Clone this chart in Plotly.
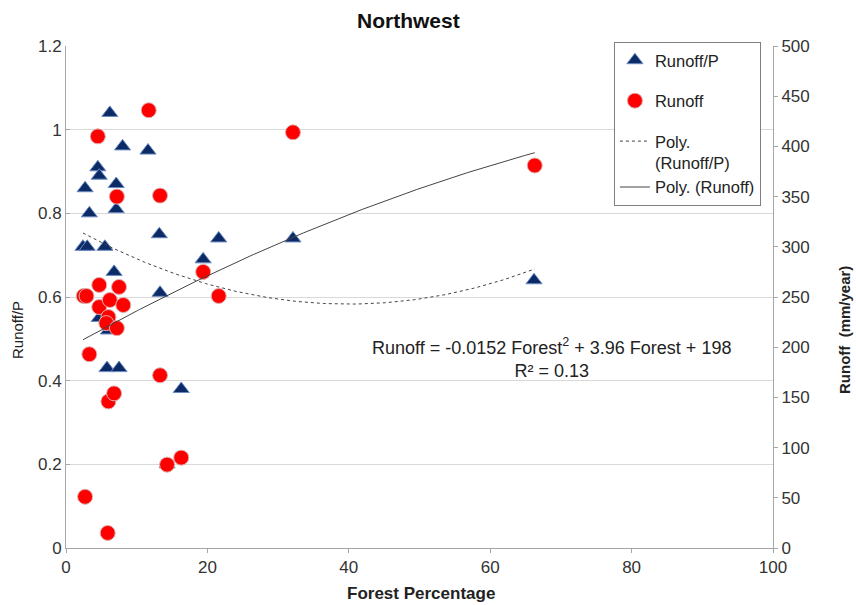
import numpy as np
import plotly.graph_objects as go

# Runoff/P by forest percentage (left axis)
ratio_forest = [6.2, 11.6, 8.0, 4.5, 4.7, 7.1, 2.7, 7.1, 3.3, 13.2, 21.6, 32.1,
                2.4, 3.0, 5.5, 6.8, 19.4, 13.3, 66.2, 4.7, 6.0, 5.8, 7.5, 16.3, 14.3]
ratio_values = [1.04, 0.95, 0.96, 0.91, 0.89, 0.87, 0.86, 0.81, 0.80, 0.75, 0.74, 0.74,
                0.72, 0.72, 0.72, 0.66, 0.69, 0.61, 0.64, 0.55, 0.52, 0.43, 0.43, 0.38, 0.20]

# Runoff (mm/year) by forest percentage (right axis)
runoff_forest = [11.7, 4.5, 32.1, 66.3, 13.3, 7.2, 19.4, 21.6, 4.7, 7.5, 2.5, 2.9, 4.7,
                 6.2, 8.1, 6.0, 5.7, 7.2, 3.3, 13.3, 6.0, 6.8, 14.3, 16.3, 2.7, 5.9]
runoff_values = [436, 410, 414, 381, 351, 350, 275, 251, 262, 260, 251, 251, 240,
                 247, 242, 230, 224, 219, 193, 172, 146, 154, 83, 90, 51, 15]

# Second-order polynomial trend coefficients (highest power first)
runoff_coef = [-0.0152, 3.96, 198]
ratio_coef = [0.0001207, -0.009638, 0.7754]

x_ticks = [0, 20, 40, 60, 80, 100]
left_ticks = [0, 0.2, 0.4, 0.6, 0.8, 1, 1.2]
right_ticks = list(range(0, 501, 50))

FONT = "Liberation Sans, Arial, sans-serif"
TEXT = "#222222"
TICK = "#333333"
AXIS = "#A6A6A6"

all_x = ratio_forest + runoff_forest
trend_x = np.linspace(min(all_x), max(all_x), 200)

fig = go.Figure()

fig.add_trace(go.Scatter(
    x=ratio_forest, y=ratio_values, mode="markers", name="Runoff/P",
    legendgroup="g1",
    marker=dict(symbol="triangle-up", size=14, color="#0B2A66",
                line=dict(color="#6A8AC0", width=1)),
    yaxis="y"))

fig.add_trace(go.Scatter(
    x=runoff_forest, y=runoff_values, mode="markers", name="Runoff",
    legendgroup="g2",
    marker=dict(symbol="circle", size=15, color="#FF0000",
                line=dict(color="#E0B0B0", width=1)),
    yaxis="y2"))

fig.add_trace(go.Scatter(
    x=trend_x, y=np.polyval(ratio_coef, trend_x), mode="lines",
    name="Poly.<br>(Runoff/P)", legendgroup="g3",
    line=dict(color="#444444", width=1, dash="dot"),
    yaxis="y"))

fig.add_trace(go.Scatter(
    x=trend_x, y=np.polyval(runoff_coef, trend_x), mode="lines",
    name="Poly. (Runoff)", legendgroup="g3",
    line=dict(color="#444444", width=1),
    yaxis="y2"))

fig.update_layout(
    width=856, height=605,
    margin=dict(l=66, r=83, t=46, b=57),
    paper_bgcolor="white", plot_bgcolor="white",
    font=dict(family=FONT, size=17, color=TEXT),
    showlegend=True,
    legend=dict(
        x=0.775, y=1.008, xanchor="left", yanchor="top",
        bgcolor="white", bordercolor="#7F7F7F", borderwidth=1,
        font=dict(family=FONT, size=16.5, color=TEXT),
        tracegroupgap=16, valign="top",
        traceorder="grouped",
    ),
    xaxis=dict(
        range=[0, 100], tickvals=x_ticks, showgrid=False, zeroline=False,
        showline=True, linecolor=AXIS, linewidth=1,
        ticks="outside", ticklen=4, tickcolor=AXIS,
        tickfont=dict(family=FONT, size=17, color=TICK),
    ),
    yaxis=dict(
        range=[0, 1.2], tickvals=left_ticks, showgrid=True, gridcolor="#D9D9D9",
        zeroline=False, showline=True, linecolor=AXIS, linewidth=1,
        ticks="inside", ticklen=4, tickcolor=AXIS,
        tickfont=dict(family=FONT, size=17, color=TICK),
    ),
    yaxis2=dict(
        range=[0, 500], tickvals=right_ticks, overlaying="y", side="right",
        showgrid=False, zeroline=False, showline=True, linecolor=AXIS,
        linewidth=1, ticks="outside", ticklen=4, tickcolor=AXIS,
        tickfont=dict(family=FONT, size=17, color=TICK),
    ),
    annotations=[
        dict(text="<b>Northwest</b>", xref="paper", yref="paper",
             x=(408 - 66) / 707, y=1.0, yshift=26, xanchor="center", yanchor="middle",
             showarrow=False, font=dict(family=FONT, size=21, color="#111111")),
        dict(text="<b>Forest Percentage</b>", xref="paper", yref="paper",
             x=(421 - 66) / 707, y=0, yshift=-45, xanchor="center", yanchor="middle",
             showarrow=False, font=dict(family=FONT, size=17, color=TEXT)),
        dict(text="Runoff/P", xref="paper", yref="paper",
             x=0, xshift=-48, y=(548 - 330) / 502, textangle=-90,
             xanchor="center", yanchor="middle", showarrow=False,
             font=dict(family=FONT, size=15, color=TEXT)),
        dict(text="<b>Runoff  (mm/year)</b>", xref="paper", yref="paper",
             x=1, xshift=72, y=(548 - 330) / 502, textangle=-90,
             xanchor="center", yanchor="middle", showarrow=False,
             font=dict(family=FONT, size=15, color=TEXT)),
        dict(text="Runoff = -0.0152 Forest<sup>2</sup> + 3.96 Forest + 198<br>R² = 0.13",
             xref="paper", yref="paper", x=(551 - 66) / 707, y=(548 - 358) / 502,
             xanchor="center", yanchor="middle", showarrow=False, align="center",
             font=dict(family=FONT, size=18, color=TEXT)),
    ],
)

fig.write_html("out.html")
